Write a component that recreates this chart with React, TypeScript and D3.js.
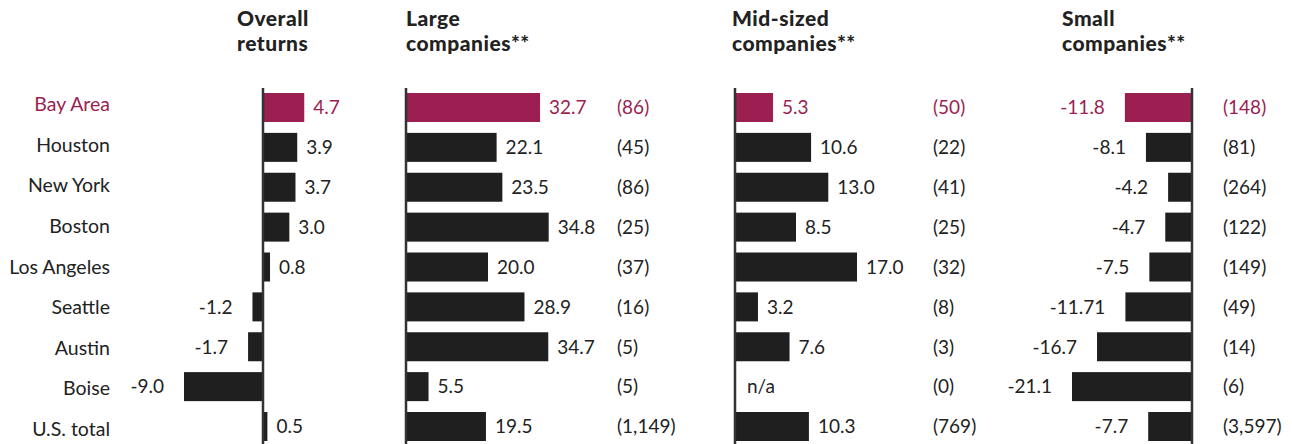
import React from "react";
import * as d3 from "d3";

const cities = ["Bay Area", "Houston", "New York", "Boston", "Los Angeles", "Seattle", "Austin", "Boise", "U.S. total"];
const overallReturns: (number | null)[] = [4.7, 3.9, 3.7, 3.0, 0.8, -1.2, -1.7, -9.0, 0.5];
const largeReturns: (number | null)[] = [32.7, 22.1, 23.5, 34.8, 20.0, 28.9, 34.7, 5.5, 19.5];
const largeCounts = [86, 45, 86, 25, 37, 16, 5, 5, 1149];
const midReturns: (number | null)[] = [5.3, 10.6, 13.0, 8.5, 17.0, 3.2, 7.6, null, 10.3];
const midCounts = [50, 22, 41, 25, 32, 8, 3, 0, 769];
const smallReturns: (number | null)[] = [-11.8, -8.1, -4.2, -4.7, -7.5, -11.71, -16.7, -21.1, -7.7];
const smallCounts = [148, 81, 264, 122, 149, 49, 14, 6, 3597];
const headers = [["Overall", "returns"], ["Large", "companies**"], ["Mid-sized", "companies**"], ["Small", "companies**"]];

const W = 1292, H = 444;
const FONT = "Lato, 'Open Sans', sans-serif";
const HILITE = "#9b1f50";
const INK = "#1f1f1f";
const TEXT = "#222";

const fmtVal = (v: number) => (Number.isInteger(v * 10) ? v.toFixed(1) : String(v));
const fmtCount = d3.format(",");

export default function App() {
  const yBar = d3.scalePoint<string>().domain(cities).range([107.5, 426.5]);
  const yLabel = d3.scalePoint<string>().domain(cities).range([104, 429]);
  const barH = 29;

  const panels = [
    { values: overallReturns, counts: null as number[] | null, scale: d3.scaleLinear().domain([-9, 0]).range([184, 263]), headerX: 237, countX: 0 },
    { values: largeReturns, counts: largeCounts, scale: d3.scaleLinear().domain([0, 35]).range([406, 549.5]), headerX: 406, countX: 617 },
    { values: midReturns, counts: midCounts, scale: d3.scaleLinear().domain([0, 17]).range([735, 857]), headerX: 732, countX: 933 },
    { values: smallReturns, counts: smallCounts, scale: d3.scaleLinear().domain([-21.1, 0]).range([1072, 1192]), headerX: 1062, countX: 1223 },
  ];

  return (
    <svg width={W} height={H} style={{ position: "absolute", left: 0, top: 0, background: "#fff" }} fontFamily={FONT}>
      {cities.map((c, i) => (
        <text key={c} x={110} y={yLabel(c)} dy="0.36em" textAnchor="end" fontSize={19.5} fill={i === 0 ? HILITE : TEXT}>
          {c}
        </text>
      ))}
      {panels.map((p, pi) => {
        const s = p.scale;
        const x0 = s(0);
        return (
          <g key={pi}>
            {headers[pi].map((h, hi) => (
              <text key={hi} x={p.headerX} y={26 + hi * 25} fontSize={21} fontWeight={900} letterSpacing={0.5} fill={TEXT}>
                {h}
              </text>
            ))}
            {cities.map((c, i) => {
              const v = p.values[i];
              const yc = yBar(c)!;
              const color = i === 0 ? HILITE : INK;
              const tcolor = i === 0 ? HILITE : TEXT;
              return (
                <g key={c}>
                  {v !== null && (
                    <rect x={Math.min(x0, s(v))} y={yc - barH / 2} width={Math.abs(s(v) - x0)} height={barH} fill={color} />
                  )}
                  {v === null ? (
                    <text x={x0 + 12} y={yc} dy="0.36em" fontSize={19} fill={tcolor}>n/a</text>
                  ) : v >= 0 ? (
                    <text x={s(v) + 9} y={yc} dy="0.36em" fontSize={19} fill={tcolor}>{fmtVal(v)}</text>
                  ) : (
                    <text x={s(v) - 20} y={yc} dy="0.36em" textAnchor="end" fontSize={19} fill={tcolor}>{fmtVal(v)}</text>
                  )}
                  {p.counts && (
                    <text x={p.countX} y={yc} dy="0.36em" fontSize={19} fill={tcolor}>({fmtCount(p.counts[i])})</text>
                  )}
                </g>
              );
            })}
            <line x1={x0} x2={x0} y1={88} y2={H} stroke="#333" strokeWidth={2.5} />
          </g>
        );
      })}
    </svg>
  );
}
